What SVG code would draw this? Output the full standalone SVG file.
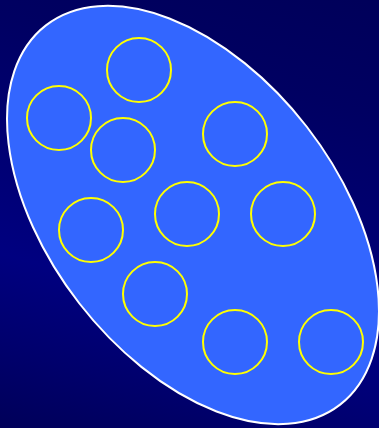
<svg xmlns="http://www.w3.org/2000/svg" width="379" height="428" viewBox="0 0 379 428">
  <defs>
    <linearGradient id="bg" gradientUnits="userSpaceOnUse" x1="170" y1="-80" x2="30" y2="440">
      <stop offset="0" stop-color="#000058"/>
      <stop offset="0.25" stop-color="#000062"/>
      <stop offset="0.45" stop-color="#000070"/>
      <stop offset="0.68" stop-color="#000080"/>
      <stop offset="0.85" stop-color="#00006C"/>
      <stop offset="1" stop-color="#000058"/>
    </linearGradient>
    <style>
      .cell { fill: none; stroke: #FFFF00; stroke-width: 2; }
      .body { fill: #3366FF; stroke: #FFFFFF; stroke-width: 2; }
    </style>
  </defs>
  <rect width="379" height="428" fill="url(#bg)"/>
  <g id="body">
    <ellipse class="body" cx="193" cy="215" rx="240" ry="144" transform="rotate(52.2 193 215)"/>
  </g>
  <g id="cells">
    <g id="c1"><circle class="cell" cx="139" cy="70" r="32"/></g>
    <g id="c2"><circle class="cell" cx="59" cy="118" r="32"/></g>
    <g id="c3"><circle class="cell" cx="123" cy="150" r="32"/></g>
    <g id="c4"><circle class="cell" cx="235" cy="134" r="32"/></g>
    <g id="c5"><circle class="cell" cx="91" cy="230" r="32"/></g>
    <g id="c6"><circle class="cell" cx="187" cy="214" r="32"/></g>
    <g id="c7"><circle class="cell" cx="283" cy="214" r="32"/></g>
    <g id="c8"><circle class="cell" cx="155" cy="294" r="32"/></g>
    <g id="c9"><circle class="cell" cx="235" cy="342" r="32"/></g>
    <g id="c10"><circle class="cell" cx="331" cy="342" r="32"/></g>
  </g>
  <g id="connectors"/>
</svg>
